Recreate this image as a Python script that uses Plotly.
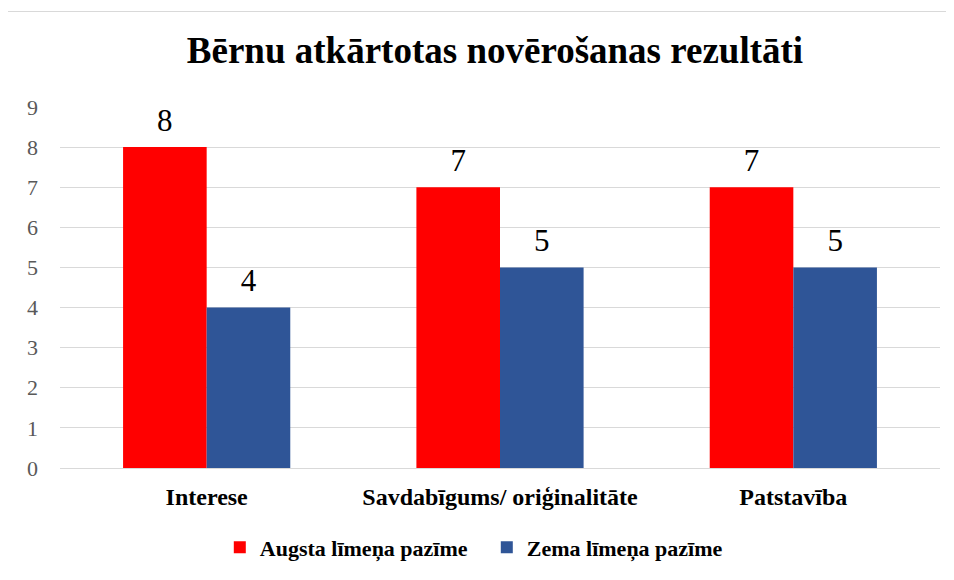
import plotly.graph_objects as go

categories = ["Interese", "Savdabīgums/ oriģinalitāte", "Patstavība"]
series_names = ["Augsta līmeņa pazīme", "Zema līmeņa pazīme"]
augsta = [8, 7, 7]
zema = [4, 5, 5]
y_ticks = [0, 1, 2, 3, 4, 5, 6, 7, 8, 9]

colors = ["#FF0000", "#2F5597"]
serif = "Liberation Serif, Times New Roman, serif"

W, H = 946, 572
L, R, T, B = 52, 14, 99, 110
plot_h = H - T - B
plot_w = W - L - R

fig = go.Figure()
for i, (name, vals, col) in enumerate(zip(series_names, [augsta, zema], colors)):
    fig.add_trace(go.Bar(
        x=categories, y=vals, name=name, marker=dict(color=col, line=dict(width=0)),
        offsetgroup=str(i), alignmentgroup="g",
    ))
for i, vals in enumerate([augsta, zema]):
    fig.add_trace(go.Scatter(
        x=categories, y=vals, mode="markers+text", text=[str(v) for v in vals],
        textposition="top center", offsetgroup=str(i), alignmentgroup="g",
        marker=dict(size=12, opacity=0), showlegend=False, hoverinfo="skip", cliponaxis=False,
        textfont=dict(family=serif, size=31, color="#000000"),
    ))

fig.update_layout(
    width=W, height=H,
    margin=dict(l=L, r=R, t=T, b=B),
    paper_bgcolor="white", plot_bgcolor="white",
    barmode="group", bargap=0.43, bargroupgap=0,
    scattermode="group", scattergap=0.43,
    title=dict(text="Bērnu atkārtotas novērošanas rezultāti", xref="paper", x=(495 - 60) / 880,
               xanchor="center", y=1 - 42 / H, yanchor="middle",
               font=dict(family=serif, size=37, color="#000000", weight="bold")),
    legend=dict(orientation="h", x=0.485, xanchor="center",
                y=(plot_h - (550 - 8 - T)) / plot_h, yanchor="middle",
                font=dict(family=serif, size=22, color="#000000", weight="bold"),
                itemwidth=30, traceorder="normal", entrywidth=222),
    font=dict(family=serif),
)
fig.update_yaxes(range=[0, 9], tickvals=y_ticks, showgrid=True, gridcolor="#D9D9D9", gridwidth=1,
                 zeroline=True, zerolinecolor="#D9D9D9", zerolinewidth=1, showline=False,
                 tickfont=dict(family=serif, size=22, color="#595959"), ticks="", ticklabelstandoff=21)
fig.update_xaxes(showline=True, linecolor="#D9D9D9", linewidth=1, ticks="",
                 tickfont=dict(family=serif, size=24, color="#000000", weight="bold"),
                 ticklabelstandoff=7)
fig.add_shape(type="rect", xref="paper", yref="paper",
              x0=(-3 - L) / plot_w, x1=(W + 10 - L) / plot_w,
              y0=(T + plot_h - (H + 10)) / plot_h, y1=(T + plot_h - 3) / plot_h,
              line=dict(color="#D9D9D9", width=1), fillcolor="rgba(0,0,0,0)", layer="below")

fig.write_html("out.html")
